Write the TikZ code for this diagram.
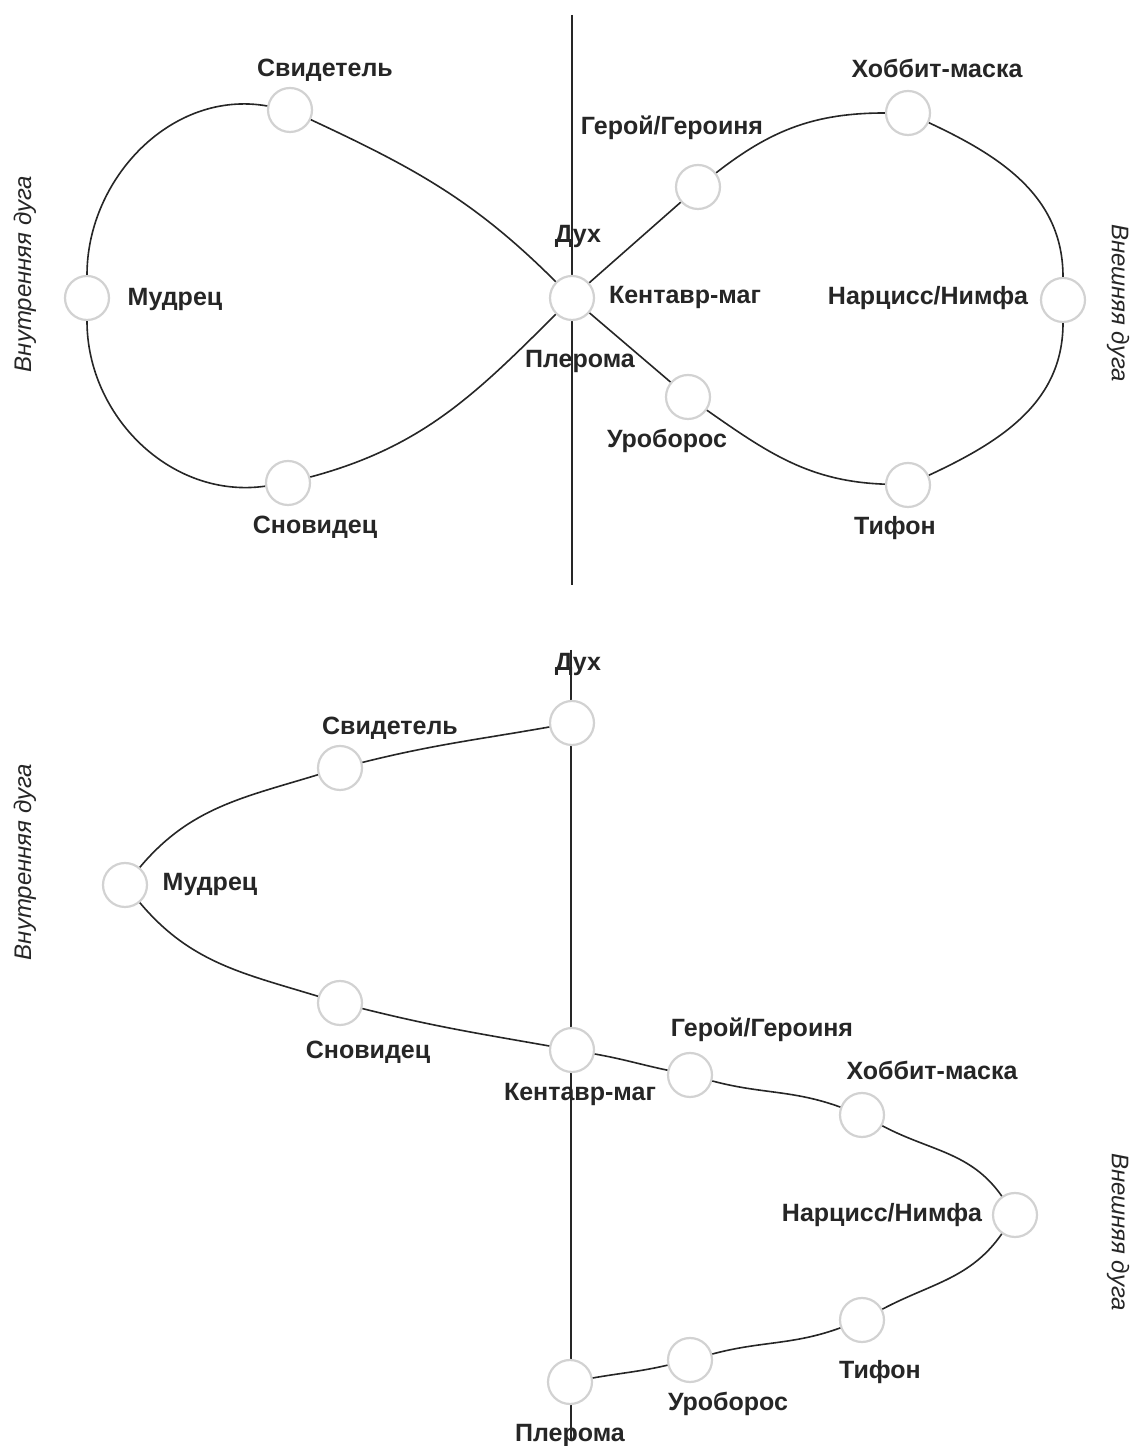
\documentclass[tikz,border=0pt]{standalone}
\usepackage{fontspec}
\setmainfont{Liberation Sans}
\begin{document}
\begin{tikzpicture}[x=1pt,y=1pt,
  stn/.style={circle, draw=gray!35, line width=2.2pt, fill=white, minimum size=44pt, inner sep=0pt},
  lbl/.style={font=\fontsize{25}{29}\selectfont\bfseries, inner sep=1pt, text=black!85},
  arclbl/.style={font=\fontsize{24}{28}\selectfont\itshape, inner sep=1pt, text=black!85},
  link/.style={line width=1.6pt, draw=black!85},
  axisline/.style={line width=2pt, draw=black!85}]
\useasboundingbox[fill=white] (0,0) rectangle (1134,1446);

% ---------- top figure ----------
\coordinate (tA) at (572,1431);
\coordinate (tB) at (572,861);
\draw[axisline] (tA) -- (tB);

\node[stn] (cen) at (572,1148) {};
\node[stn] (svid1) at (290,1336) {};
\node[stn] (mud1) at (87,1148) {};
\node[stn] (snov1) at (288,963) {};
\node[stn] (geroi1) at (698,1259) {};
\node[stn] (hob1) at (908,1333) {};
\node[stn] (narc1) at (1063,1146) {};
\node[stn] (uro1) at (688,1049) {};
\node[stn] (tif1) at (908,961) {};

\draw[link] (cen) to[out=135,in=-25] (svid1);
\draw[link] (svid1) to[out=170,in=90] (mud1);
\draw[link] (mud1) to[out=-90,in=188] (snov1);
\draw[link] (snov1) to[out=15,in=-135] (cen);
\draw[link] (cen) -- (geroi1);
\draw[link] (geroi1) to[out=38,in=180] (hob1);
\draw[link] (hob1) to[out=-25,in=90] (narc1);
\draw[link] (narc1) to[out=-90,in=25] (tif1);
\draw[link] (tif1) to[out=178,in=-35] (uro1);
\draw[link] (uro1) -- (cen);

\node[lbl] (l-svid1) at (325,1376) {Свидетель};
\node[lbl] (l-mud1) at (175,1146) {Мудрец};
\node[lbl] (l-snov1) at (315,919) {Сновидец};
\node[lbl] (l-duh1) at (578,1209) {Дух};
\node[lbl] (l-kent1) at (685,1148) {Кентавр-маг};
\node[lbl] (l-pler1) at (580,1084) {Плерома};
\node[lbl] (l-geroi1) at (672,1318) {Герой/Героиня};
\node[lbl] (l-hob1) at (937,1378) {Хоббит-маска};
\node[lbl] (l-narc1) at (928,1148) {Нарцисс/Нимфа};
\node[lbl] (l-uro1) at (667,1005) {Уроборос};
\node[lbl] (l-tif1) at (895,918) {Тифон};
\node[arclbl, rotate=90] (l-in1) at (25,1172) {Внутренняя дуга};
\node[arclbl, rotate=-90] (l-out1) at (1118,1143) {Внешняя дуга};

% ---------- bottom figure ----------
\coordinate (bA) at (571,796);
\coordinate (bB) at (571,6);
\draw[axisline] (bA) -- (bB);

\node[stn] (duh2) at (572,723) {};
\node[stn] (svid2) at (340,678) {};
\node[stn] (mud2) at (125,561) {};
\node[stn] (snov2) at (340,443) {};
\node[stn] (kent2) at (572,396) {};
\node[stn] (geroi2) at (690,371) {};
\node[stn] (hob2) at (862,331) {};
\node[stn] (narc2) at (1015,231) {};
\node[stn] (tif2) at (862,126) {};
\node[stn] (uro2) at (690,86) {};
\node[stn] (pler2) at (570,64) {};

\draw[link] (duh2) to[out=190,in=14] (svid2);
\draw[link] (svid2) to[out=197,in=50] (mud2);
\draw[link] (mud2) to[out=-50,in=163] (snov2);
\draw[link] (snov2) to[out=-14,in=170] (kent2);
\draw[link] (kent2) to[out=-10,in=168] (geroi2);
\draw[link] (geroi2) to[out=-15,in=160] (hob2);
\draw[link] (hob2) to[out=-28,in=125] (narc2);
\draw[link] (narc2) to[out=-125,in=28] (tif2);
\draw[link] (tif2) to[out=200,in=15] (uro2);
\draw[link] (uro2) to[out=193,in=10] (pler2);

\node[lbl] (l-duh2) at (578,781) {Дух};
\node[lbl] (l-svid2) at (390,718) {Свидетель};
\node[lbl] (l-mud2) at (210,561) {Мудрец};
\node[lbl] (l-snov2) at (368,394) {Сновидец};
\node[lbl] (l-kent2) at (580,352) {Кентавр-маг};
\node[lbl] (l-geroi2) at (762,416) {Герой/Героиня};
\node[lbl] (l-hob2) at (932,376) {Хоббит-маска};
\node[lbl] (l-narc2) at (882,231) {Нарцисс/Нимфа};
\node[lbl] (l-tif2) at (880,74) {Тифон};
\node[lbl] (l-uro2) at (728,42) {Уроборос};
\node[lbl] (l-pler2) at (570,11) {Плерома};
\node[arclbl, rotate=90] (l-in2) at (25,584) {Внутренняя дуга};
\node[arclbl, rotate=-90] (l-out2) at (1118,214) {Внешняя дуга};
\end{tikzpicture}
\end{document}
